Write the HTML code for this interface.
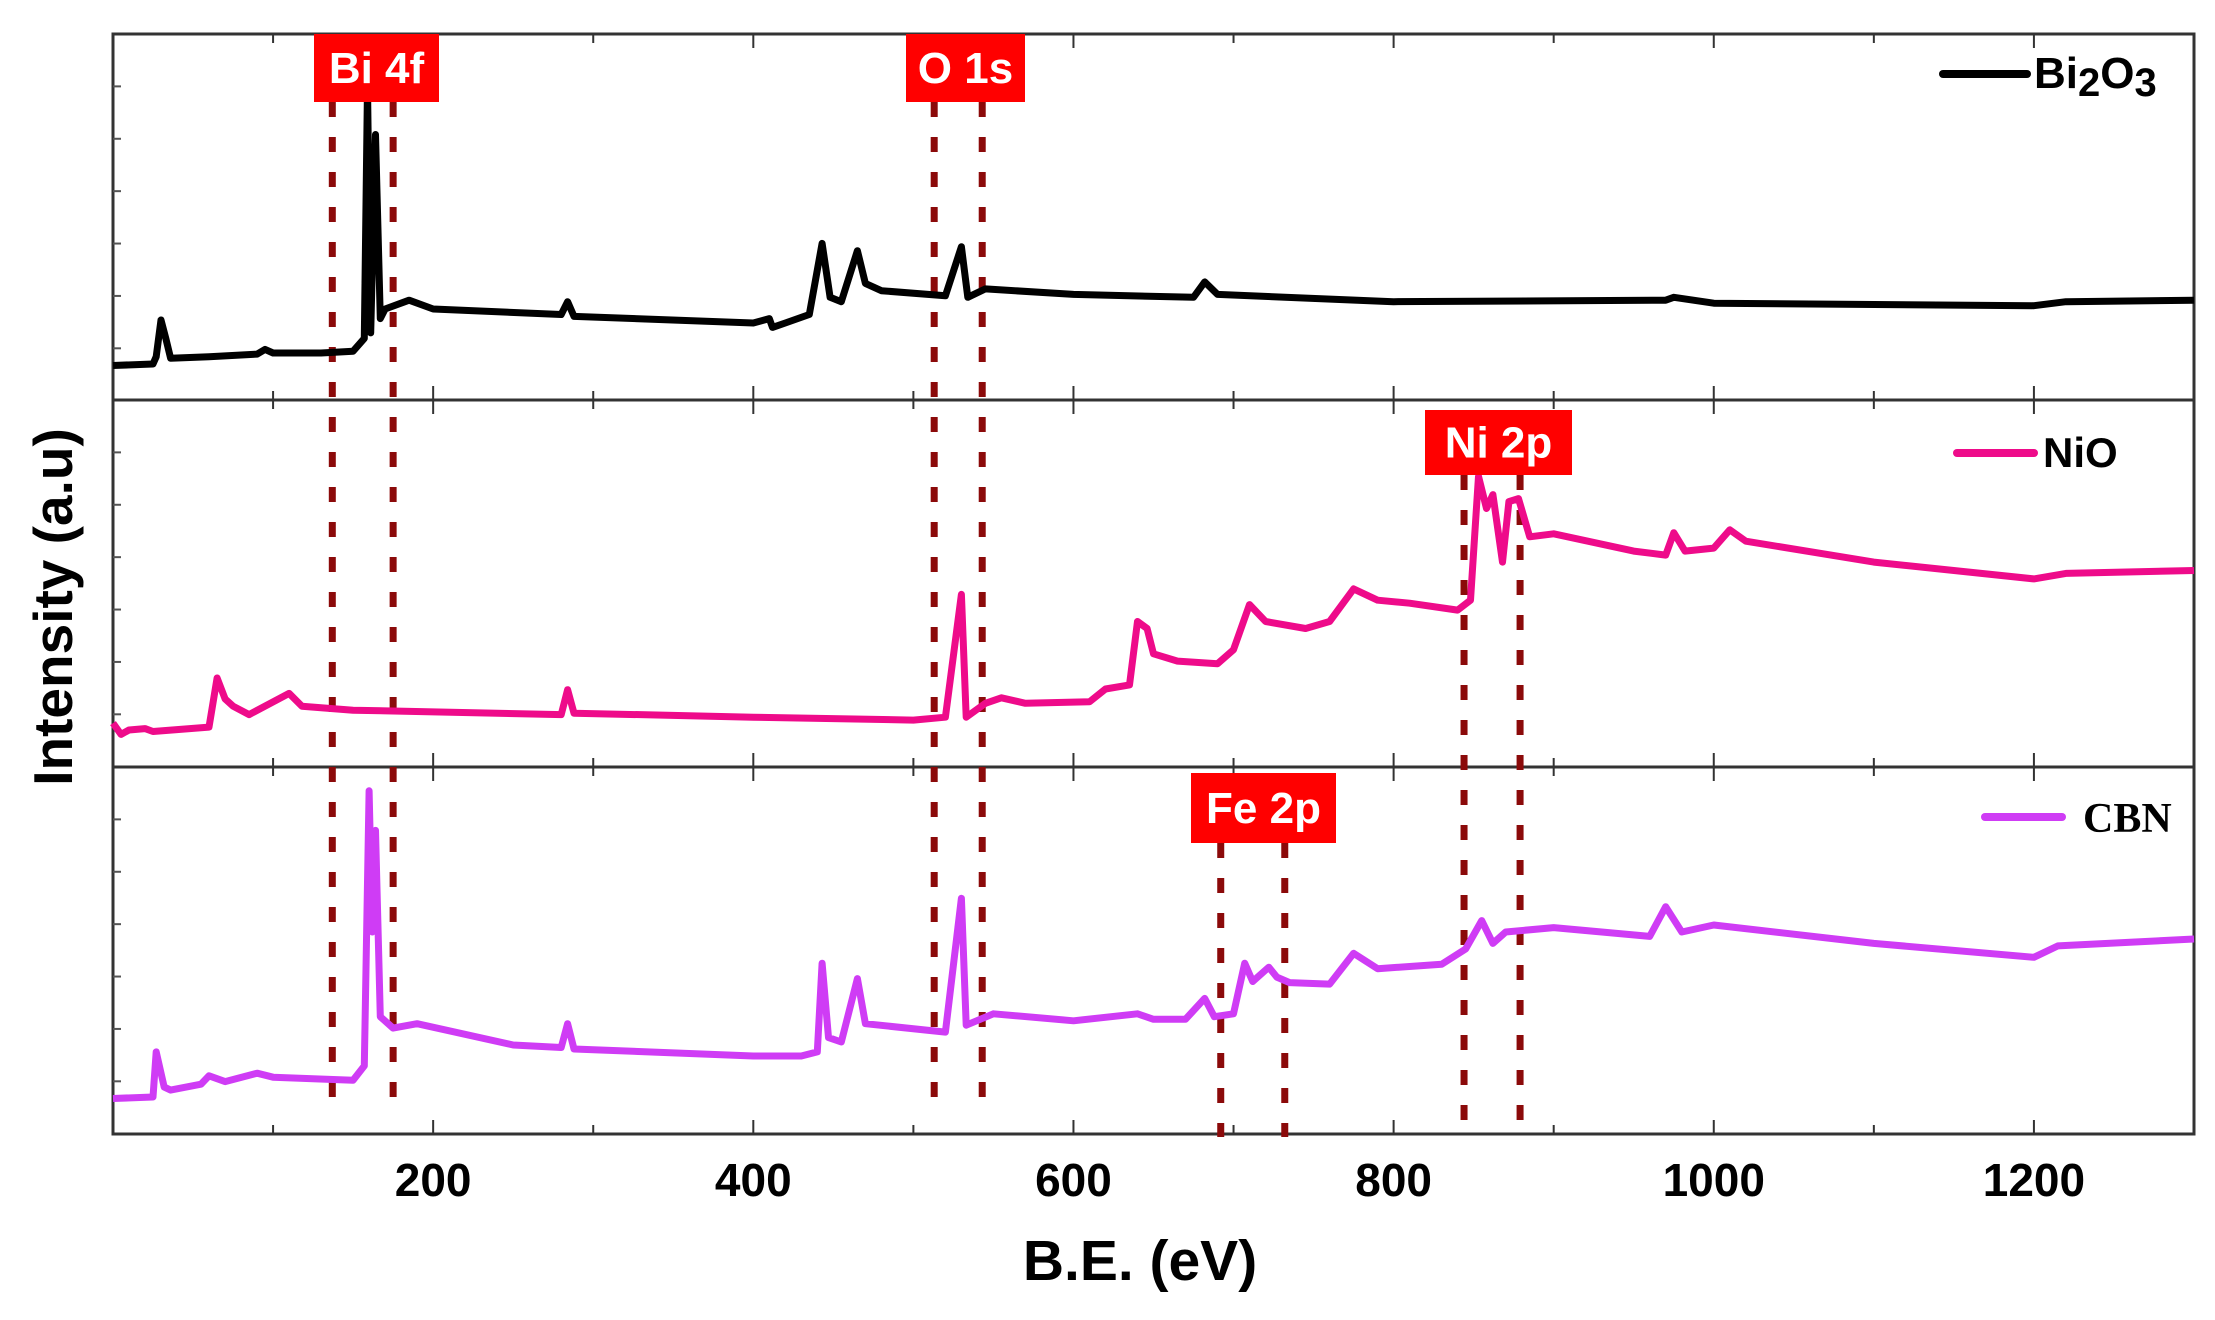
<!DOCTYPE html>
<html><head><meta charset="utf-8"><style>
body{margin:0;background:#fff}
svg{display:block;font-family:"Liberation Sans",Arial,sans-serif}
</style></head><body>
<svg id="chart" width="2215" height="1320" viewBox="0 0 2215 1320" xmlns="http://www.w3.org/2000/svg">
<g id="marks"></g>
<text x="1140" y="1280" text-anchor="middle" font-size="57" font-weight="bold">B.E. (eV)</text>
<text transform="translate(72,607) rotate(-90)" text-anchor="middle" font-size="55" font-weight="bold">Intensity (a.u)</text>
</svg>
<script>
const xTicks=[200,400,600,800,1000,1200];
const bi2o3E=[0,25,27,30,33,36,60,90,95,100,130,150,157,159,161,164,167,170,185,200,280,284,288,400,410,412,420,435,443,448,455,465,470,480,520,530,534,545,600,675,682,690,800,970,975,1000,1200,1220,1300];
const bi2o3V=[9.6,10,12,22,17,11.6,12,12.7,14,13,13,13.5,17,86,18.5,72.6,22.4,25,27.4,25,23.5,27,23,21.2,22.4,20,21.2,23.5,42.9,28.2,27,40.9,32,30,28.6,42,28.2,30.5,29,28.2,32.4,29,27,27.4,28.2,26.6,25.9,27,27.4];
const nioE=[0,5,10,20,25,60,65,70,75,85,110,118,150,280,284,288,400,500,520,530,533,545,555,570,610,620,635,640,646,650,665,690,700,710,720,745,760,775,790,810,840,848,853,858,862,868,872,878,885,900,950,970,975,982,1000,1010,1020,1100,1200,1220,1300];
const nioV=[11.9,8.8,10,10.4,9.6,10.8,24.2,18.5,16.5,14.2,20,16.5,15.4,14.2,21,14.6,13.5,12.7,13.5,47,13.5,17.3,18.8,17.3,17.7,21.2,22.3,39.6,37.7,30.8,28.8,28.1,31.9,44.2,39.6,37.7,39.6,48.5,45.4,44.6,42.7,45.4,79.2,70.4,74.2,55.8,72.3,73.1,62.7,63.5,58.8,57.7,63.8,58.8,59.6,64.6,61.5,55.8,51.2,52.7,53.5];
const cbnE=[0,25,27,32,36,55,60,70,90,100,150,157,160,162,164,167,175,190,250,280,284,288,400,430,440,443,447,455,465,470,520,530,533,550,600,640,650,670,682,688,700,707,712,722,727,735,760,775,790,830,845,855,862,870,900,960,970,980,1000,1100,1200,1215,1300];
const cbnV=[9.6,10,22.3,12.7,11.9,13.5,15.8,14.2,16.5,15.4,14.6,18.5,93.5,55,82.7,31.9,28.8,30,24.2,23.5,30,23.1,21.2,21.2,22.3,46.5,26.2,25,42.3,30,27.7,64.2,29.6,32.7,30.8,32.7,31.2,31.2,36.9,31.9,32.7,46.5,41.5,45.4,42.7,41.2,40.8,49.2,45,46.2,50.4,58.1,51.9,55,56.2,53.8,61.9,55,56.9,51.9,48.1,51.2,53.1];
const NS='http://www.w3.org/2000/svg';
const L=113,R=2194,tops=[34,400,767],BOT=1134,PH=366.7;
function xS(e){return L+e/1300*(R-L);}
function yS(p,v){return tops[p]+PH-v/100*PH;}
function mk(tag,attrs,parent){const el=document.createElementNS(NS,tag);for(const k in attrs)el.setAttribute(k,attrs[k]);(parent||document.getElementById('marks')).appendChild(el);return el;}
let fr=mk('rect',{x:L,y:tops[0],width:R-L,height:BOT-tops[0],fill:'none',stroke:'#333',"stroke-width":3});


[1,2].forEach(i=>{let d=mk('line',{x1:L,x2:R,y1:tops[i],y2:tops[i],stroke:'#333',"stroke-width":3});

});
for(let e=100;e<1300;e+=100){const maj=e%200===0;const len=maj?14:9;
 [tops[0],tops[1],tops[2]].forEach(y=>{let t=mk('line',{x1:xS(e),x2:xS(e),y1:y,y2:y+len,stroke:'#333',"stroke-width":2});
 
 });
 [tops[1],tops[2],BOT].forEach(y=>{let t=mk('line',{x1:xS(e),x2:xS(e),y1:y,y2:y-len,stroke:'#333',"stroke-width":2});
 
 });}
for(let p=0;p<3;p++)for(let k=1;k<7;k++){const y=tops[p]+k*PH/7;let t=mk('line',{x1:L,x2:L+8,y1:y,y2:y,stroke:'#555',"stroke-width":2});

}
xTicks.forEach(e=>{let t=mk('text',{x:xS(e),y:1196,"text-anchor":'middle',"font-size":46,"font-weight":'bold'});t.textContent=e;

});
const refs=[[137,102,1116],[175,102,1116],[513,102,1116],[543,102,1116],[844,475,1130],[879,475,1130],[692,843,1137],[732,843,1137]];
refs.forEach(r=>{let d=mk('line',{x1:xS(r[0]),x2:xS(r[0]),y1:r[1],y2:r[2],stroke:'#8b0a0a',"stroke-width":7,"stroke-dasharray":'15 20'});

});
function series(E,V,p,color,name){let d='';E.forEach((e,i)=>{d+=(i?'L':'M')+xS(e).toFixed(1)+','+yS(p,V[i]).toFixed(1);});
 let pa=mk('path',{d:d,fill:'none',stroke:color,"stroke-width":7,"stroke-linejoin":'round'});
 
 }
series(bi2o3E,bi2o3V,0,'#000','bi2o3-spectrum');
series(nioE,nioV,1,'#ee0b8a','nio-spectrum');
series(cbnE,cbnV,2,'#cf3cf5','cbn-spectrum');
const labs=[['Bi 4f',314,34,125,68],['O 1s',906,34,119,68],['Ni 2p',1425,410,147,65],['Fe 2p',1191,773,145,70]];
labs.forEach(l=>{let r=mk('rect',{x:l[1],y:l[2],width:l[3],height:l[4],fill:'#ff0000'});


let t=mk('text',{x:l[1]+l[3]/2,y:l[2]+l[4]/2+15,"text-anchor":'middle',"font-size":44,"font-weight":'bold',fill:'#fff'});t.textContent=l[0];

});
function leg(x1,x2,y,color,w){let l=mk('line',{x1:x1,x2:x2,y1:y,y2:y,stroke:color,"stroke-width":w,"stroke-linecap":'round'});

}
leg(1943,2027,74,'#000',8);
let t1=mk('text',{x:2034,y:88,"font-size":44,"font-weight":'bold'});t1.innerHTML='Bi<tspan font-size="40" dy="8">2</tspan><tspan dy="-8">O</tspan><tspan font-size="40" dy="8">3</tspan>';


leg(1957,2034,453,'#ee0b8a',8);
let t2=mk('text',{x:2043,y:467,"font-size":42,"font-weight":'bold'});t2.textContent='NiO';


leg(1985,2062,817,'#cf3cf5',8);
let t3=mk('text',{x:2083,y:832,"font-size":42,"font-weight":'bold',"font-family":'"Liberation Serif",serif'});t3.textContent='CBN';


</script>
</body></html>
